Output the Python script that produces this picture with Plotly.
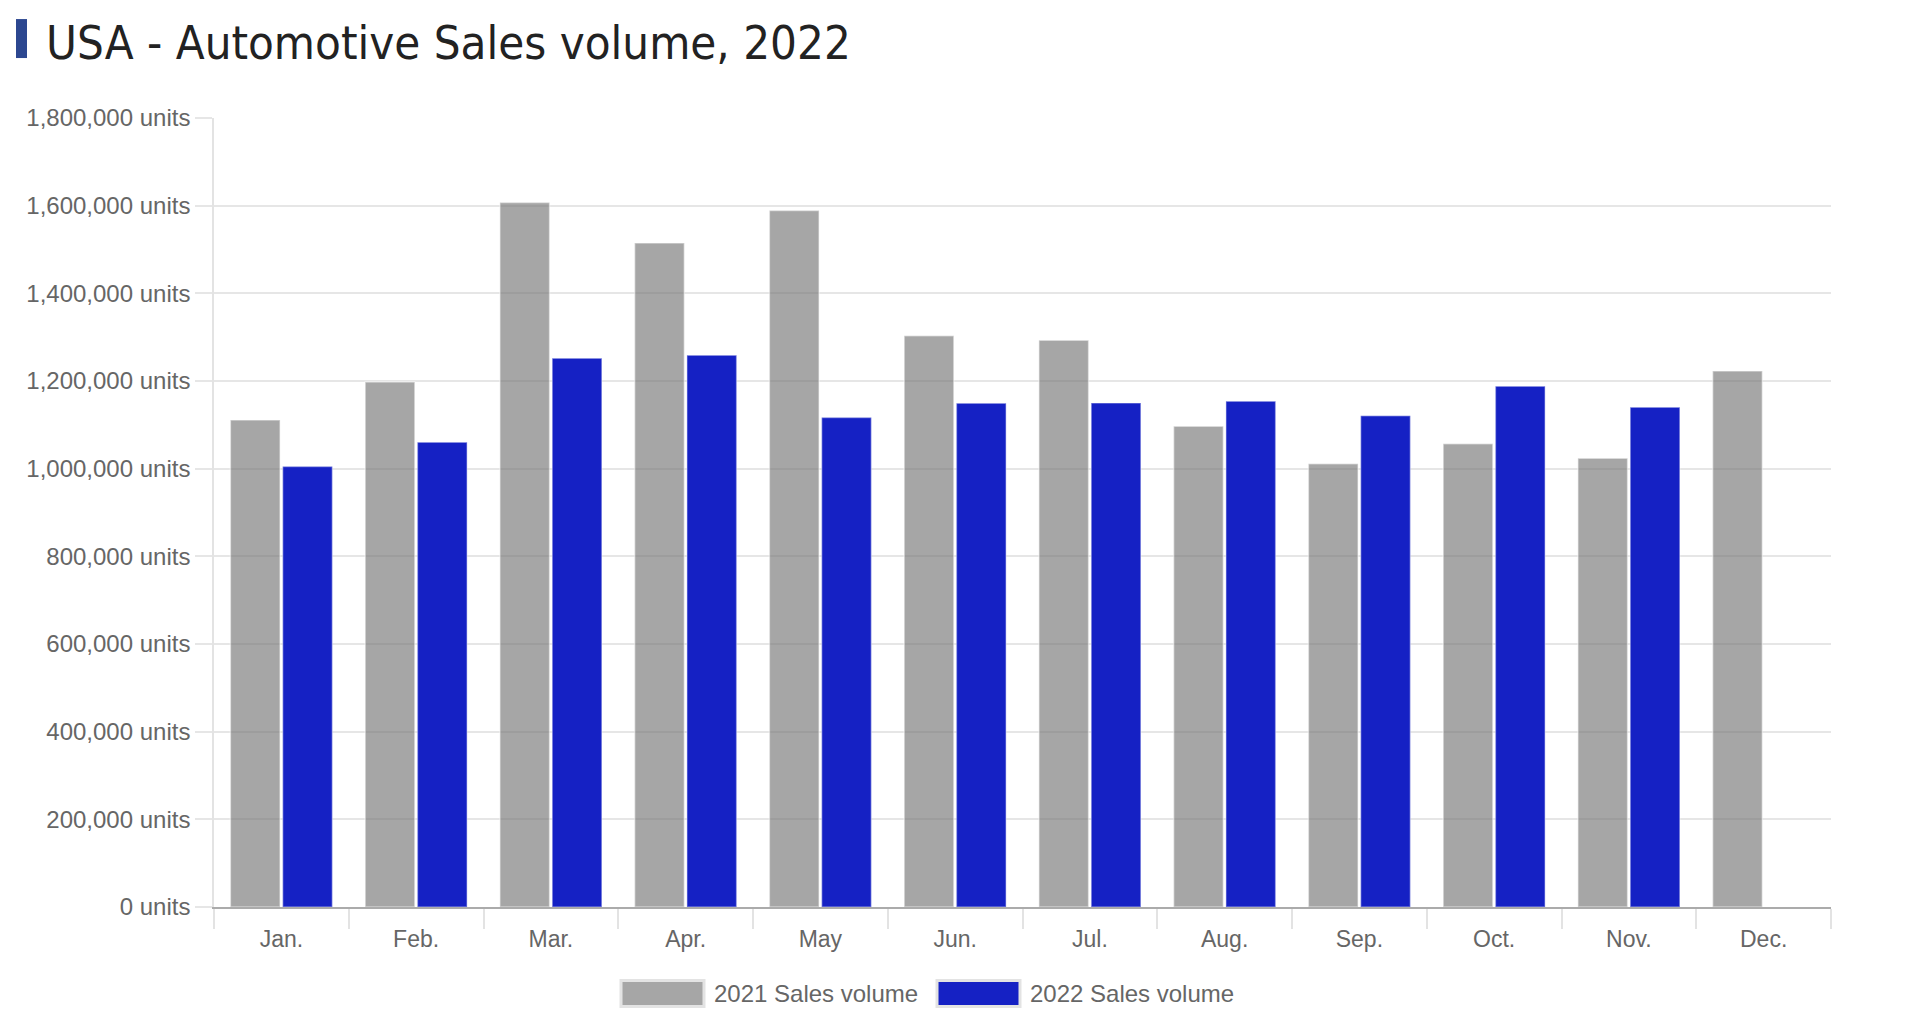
import plotly.graph_objects as go

# ---- data ----
months = ["Jan.", "Feb.", "Mar.", "Apr.", "May", "Jun.", "Jul.", "Aug.", "Sep.", "Oct.", "Nov.", "Dec."]
series_names = ["2021 Sales volume", "2022 Sales volume"]
sales_2021 = [1111000, 1198000, 1607000, 1515000, 1589000, 1303000, 1293000, 1097000, 1011000, 1057000, 1024000, 1223000]
sales_2022 = [1005000, 1060000, 1252000, 1259000, 1117000, 1149000, 1150000, 1154000, 1121000, 1188000, 1140000, None]
y_ticks = [0, 200000, 400000, 600000, 800000, 1000000, 1200000, 1400000, 1600000, 1800000]
title_text = "USA - Automotive Sales volume, 2022"

# ---- layout geometry (page pixels; page body has an 8px margin) ----
OFF = 8
W, H = 1928 - OFF, 1030 - OFF
PLOT_L, PLOT_R, PLOT_T, PLOT_B = 214, 1831, 118, 907.5   # page coords
L, R, T, B = PLOT_L - OFF, 1928 - PLOT_R, PLOT_T - OFF, 1030 - PLOT_B
PW, PH = W - L - R, H - T - B

def px(x):  # page x -> paper
    return (x - OFF - L) / PW

def py(y):  # page y -> paper
    return (H - B - (y - OFF)) / PH

GRAY = "rgba(118,118,118,0.65)"
BLUE = "#1521C4"
TICK_FONT = dict(family="Liberation Sans, Arial, sans-serif", size=24, color="#666666")

fig = go.Figure()
fig.add_trace(go.Bar(x=months, y=sales_2021, name=series_names[0],
                     marker=dict(color=GRAY, line=dict(color="rgba(255,255,255,0.45)", width=1.5))))
fig.add_trace(go.Bar(x=months, y=sales_2022, name=series_names[1],
                     marker=dict(color=BLUE, line=dict(color="rgba(255,255,255,0.35)", width=1.5))))

fig.update_layout(
    width=W, height=H,
    margin=dict(l=L, r=R, t=T, b=B, pad=0),
    paper_bgcolor="white", plot_bgcolor="white",
    barmode="group", bargap=0.224, bargroupgap=0.05,
    showlegend=False,
    font=TICK_FONT,
)

fig.update_xaxes(
    type="category", tickfont=dict(TICK_FONT, size=23),
    showgrid=False, showline=True, linecolor="#ABABAB", linewidth=2,
    ticks="outside", tickson="boundaries", ticklen=20, tickwidth=2, tickcolor="#E3E3E3",
    ticklabelstandoff=10,
    zeroline=False, fixedrange=True,
)
fig.update_yaxes(
    range=[0, 1800000], tickvals=y_ticks,
    ticktext=[f"{v:,} units" for v in y_ticks],
    tickfont=TICK_FONT,
    showgrid=True, gridcolor="#E6E6E6", gridwidth=1.5,
    showline=True, linecolor="#E3E3E3", linewidth=1.5,
    ticks="outside", ticklen=17, tickwidth=1.5, tickcolor="#E6E6E6",
    zeroline=False, fixedrange=True,
)

shapes = []
annotations = []

# title marker + title
shapes.append(dict(type="rect", xref="paper", yref="paper",
                   x0=px(16), x1=px(27), y0=py(58), y1=py(19),
                   fillcolor="#2C4790", line=dict(width=0), layer="above"))
annotations.append(dict(text=title_text, xref="paper", yref="paper",
                        x=px(44), y=py(42), xanchor="left", yanchor="middle", showarrow=False,
                        font=dict(family="DejaVu Sans Condensed, DejaVu Sans, sans-serif", size=47, color="#222222")))

# custom legend
legend_items = [
    (series_names[0], "#A6A6A6", 621),
    (series_names[1], BLUE, 937),
]
for name, color, x0 in legend_items:
    shapes.append(dict(type="rect", xref="paper", yref="paper",
                       x0=px(x0), x1=px(x0 + 83), y0=py(1007), y1=py(981),
                       fillcolor=color, line=dict(color="#E3E3E3", width=3), layer="above"))
    annotations.append(dict(text=name, xref="paper", yref="paper",
                            x=px(x0 + 91), y=py(994), xanchor="left", yanchor="middle", showarrow=False,
                            font=TICK_FONT))

fig.update_layout(shapes=shapes, annotations=annotations)

fig.write_html("out.html")
